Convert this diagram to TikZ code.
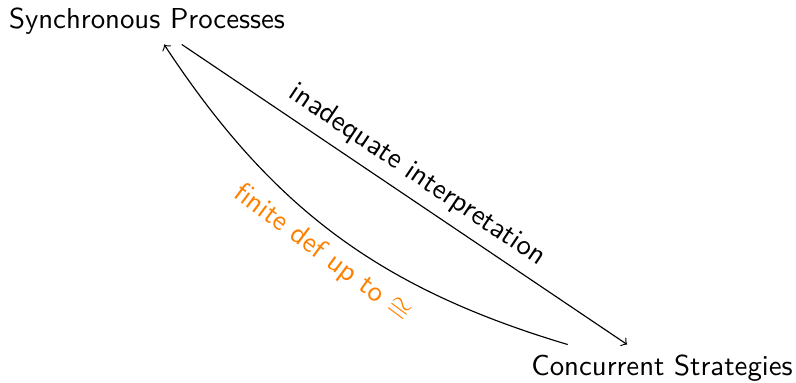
\documentclass[tikz,border=0pt]{standalone}
\usepackage{tikz}
\tikzset{pbox/.style={font=\sffamily},
  lbl/.style={sloped,midway,font=\sffamily},
  conglbl/.style={lbl,text=orange}
}
\begin{document}
\begin{tikzpicture}[x=0.347pt,y=-0.347pt]
  \useasboundingbox (0,0) rectangle (796,382);
  \node [pbox] (sync) at (147,21) {Synchronous Processes};
  \node [pbox] (strat) at (662,368) {Concurrent Strategies};
  \draw[->] (sync) -- node [lbl,above] {inadequate interpretation} (strat);
  \draw[->] (strat) to[bend left=20] node [conglbl,below] {finite def up to $\cong$} (sync);
\end{tikzpicture}
\end{document}
